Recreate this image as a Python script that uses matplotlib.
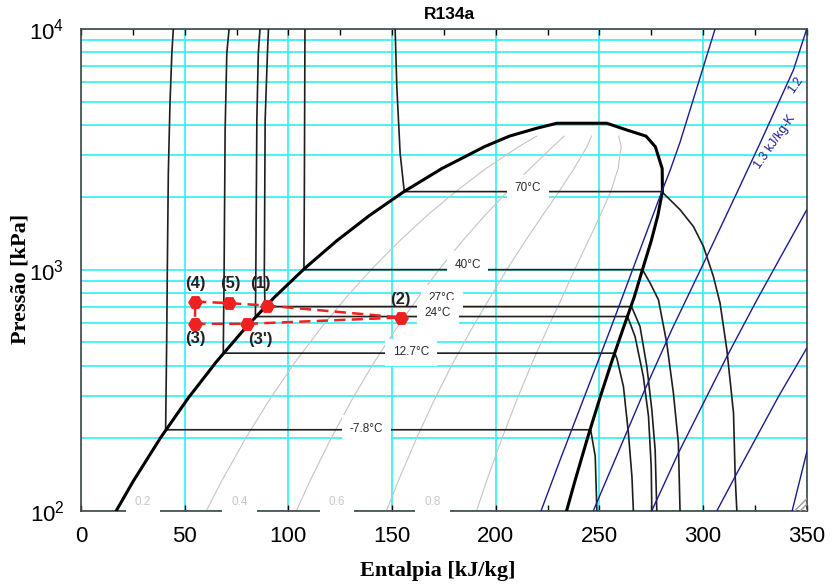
import matplotlib
matplotlib.use("Agg")
import matplotlib.pyplot as plt
from matplotlib.patches import Polygon
from matplotlib.ticker import MultipleLocator, NullFormatter, LogLocator

plt.rcParams["font.family"] = ["Liberation Sans", "DejaVu Sans"]
plt.rcParams["hatch.linewidth"] = 1.0

# saturation table, R134a (p in kPa, h in kJ/kg)
p_sat = [100, 132.7, 200.6, 292.8, 414.6, 571.7, 770.2, 1016.6, 1317.9, 1681.8, 2116.8, 2633.2, 3244.2, 3591]
h_liq = [17.0, 25.2, 38.3, 51.6, 65.2, 79.1, 93.3, 108.0, 123.2, 139.1, 155.9, 174.0, 194.5, 206.6]
h_vap = [234.2, 238.2, 244.3, 250.2, 255.9, 261.5, 266.8, 271.0, 275.0, 278.2, 280.4, 280.3, 277.0, 272.5]
# dome cap near the critical point
p_cap = [3873, 4062, 4062, 3809]
h_cap = [219.8, 229.5, 253.6, 263.2]

qualities = [0.2, 0.4, 0.6, 0.8]
quality_labels = ["0.2", "0.4", "0.6", "0.8"]
quality_label_h = [29.9, 76.4, 123.3, 169.5]
quality_label_p = 109

# isotherms: compressed liquid branch, horizontal in dome, superheated branch
iso_names = ["70°C", "40°C", "27°C", "24°C", "12.7°C", "-7.8°C"]
iso_h = [
    [151.5, 152.3, 153.9, 155.9, 280.1, 289.0, 295.4, 300.2, 305.0, 308.2, 311.5, 314.7, 315.5, 316.3],
    [108.0, 107.7, 107.5, 270.8, 274.5, 278.5, 282.5, 285.7, 288.1, 288.9],
    [90.4, 89.9, 88.8, 88.4, 88.7, 265.5, 269.6, 272.9, 275.3, 276.9, 277.7],
    [86.3, 85.5, 84.8, 84.3, 84.1, 263.6, 267.2, 271.2, 273.7, 275.0, 275.3],
    [71.4, 70.3, 69.5, 69.0, 68.6, 257.4, 258.4, 261.6, 264.0, 265.7, 266.4],
    [44.5, 43.8, 42.9, 42.1, 41.6, 41.3, 40.8, 245.8, 248.0, 248.8],
]
iso_p = [
    [10000, 5762, 3050, 2113, 2113, 1774, 1512, 1250, 938, 727.5, 465.6, 254.3, 138.8, 100],
    [10000, 2000, 1002, 1002, 880.9, 750.8, 496.6, 307.9, 190.9, 100],
    [10000, 7930, 4192, 969, 704, 704, 581.7, 396.9, 262.5, 179.1, 100],
    [10000, 7930, 4192, 969, 640, 640, 528.8, 360.8, 246.2, 152.7, 100],
    [10000, 7930, 3809, 969, 451, 451, 430.1, 328.0, 210.1, 138.8, 100],
    [10000, 7930, 4917, 2519, 969, 498, 216.8, 216.8, 168.0, 100],
]
iso_label_p = [2113, 1002, 704, 640, 451, 216.8]
iso_label_h = [215.6, 186.4, 174.0, 172.0, 159.1, 137.8]
iso_label_dy = [2.4, 3.6, 6.0, 2.4, 0.7, 0.7]

# isentropes
s_h = [
    [305.8, 289.0, 284.2, 280.1, 255.2, 231.1, 221.9],
    [350.0, 343.6, 327.5, 314.7, 301.8, 284.9, 271.2, 247.1],
    [350.0, 326.0, 311.5, 300.2, 288.1, 275.3],
    [350.0, 336.4, 315.5, 306.7],
    [343.0, 350.0],
]
s_p = [
    [10000, 3408, 2600, 2113, 564, 162.8, 100],
    [10000, 6760, 3356, 1952, 1135, 564, 307.8, 100],
    [1775, 751, 436.6, 279.9, 173.5, 100],
    [473, 298, 138.8, 100],
    [100, 174.6],
]

# refrigeration cycle: (4) (5) (1) (2) (3') (3) (4)
cyc_h = [55.0, 71.5, 89.6, 154.4, 80.2, 55.0, 55.0]
cyc_p = [738.6, 727.4, 711, 634, 597, 597, 738.6]
cyc_labels = ["(4)", "(5)", "(1)", "(2)", "(3')", "(3)"]
cyc_offsets = [(0, 13.2), (0.5, 14.4), (-4.3, 15.8), (-0.7, 12.7), (9.1, -11.5), (0, -10.3)]

cyan = "#2ef0f2"
navy = "#1c1c8c"

fig = plt.figure(figsize=(8.32, 5.85), dpi=100)
ax = fig.add_axes([0.0974, 0.127, 0.8722, 0.8234])
ax.set_yscale("log")
ax.set_xlim(0, 350)
ax.set_ylim(100, 10000)

ax.set_axisbelow(True)
ax.xaxis.grid(True, which="major", color=cyan, lw=1.2)
ax.yaxis.grid(True, which="both", color=cyan, lw=1.2)

# quality lines
for q in qualities:
    hq = [hf + q * (hg - hf) for hf, hg in zip(h_liq, h_vap)]
    ax.plot(hq, p_sat, color="#c4c4c4", lw=0.8, zorder=2)
for lab, hx in zip(quality_labels, quality_label_h):
    ax.text(hx, quality_label_p, lab, color="#c8c8c8", fontsize=8.5, ha="center", va="center",
            bbox=dict(boxstyle="square,pad=0.75", fc="white", ec="none"), zorder=3)

# isotherms
for hh, pp in zip(iso_h, iso_p):
    ax.plot(hh, pp, color="#1e1e1e", lw=1.2, zorder=3)
for k, (name, lp, lh, dy) in enumerate(zip(iso_names, iso_label_p, iso_label_h, iso_label_dy)):
    ax.annotate(name, (lh, lp), xytext=(0, dy), textcoords="offset points", ha="center", va="center",
                fontsize=8.5, color="#2a2a2a", zorder=6 + k,
                bbox=dict(boxstyle="square,pad=0.65", fc="white", ec="none"))

# saturation dome
dome_h = h_liq + h_cap + h_vap[::-1]
dome_p = p_sat + p_cap + p_sat[::-1]
ax.plot(dome_h, dome_p, color="black", lw=2.2, zorder=4)

# isentropes
for hh, pp in zip(s_h, s_p):
    ax.plot(hh, pp, color=navy, lw=1.0, zorder=4)
ax.text(344.5, 5855, "1.2", color=navy, fontsize=9, rotation=55, ha="center", va="center", zorder=5)
ax.text(334.5, 3408, "1.3 kJ/kg-K", color=navy, fontsize=9, rotation=55, ha="center", va="center", zorder=5)

# cycle
ax.plot(cyc_h, cyc_p, color="#ee2020", lw=1.8, ls=(0, (4.5, 2.5)), marker="H", ms=9.5,
        markevery=list(range(6)), zorder=12)
for lab, hx, px, off in zip(cyc_labels, cyc_h, cyc_p, cyc_offsets):
    ax.annotate(lab, (hx, px), xytext=off, textcoords="offset points", ha="center", va="center",
                fontsize=12, fontweight="bold", color="#222222", zorder=13)

# resize grip in the corner
ax.add_patch(Polygon([(0.978, 0.0), (1.0, 0.0), (1.0, 0.034)], closed=True, transform=ax.transAxes,
                     fc="none", ec="#999999", lw=0, hatch="//////", zorder=5))

ax.set_xticks(range(0, 351, 50))
ax.xaxis.set_minor_locator(MultipleLocator(25))
ax.set_yticks([100, 1000, 10000], labels=[r"$\mathregular{10^2}$", r"$\mathregular{10^3}$", r"$\mathregular{10^4}$"])
ax.yaxis.set_minor_locator(LogLocator(subs=range(2, 10)))
ax.yaxis.set_minor_formatter(NullFormatter())
ax.tick_params(axis="x", which="both", direction="in", top=True, length=4, width=1, labelsize=16, pad=11)
ax.tick_params(axis="y", which="major", direction="in", length=0, labelsize=16, pad=12)
ax.tick_params(axis="y", which="minor", length=0)
for sp in ax.spines.values():
    sp.set_color("#444444")
    sp.set_linewidth(1.2)

ax.set_title("R134a", fontsize=12.5, fontweight="bold", pad=7, x=0.507)
ax.set_xlabel("Entalpia [kJ/kg]", family="Liberation Serif", fontsize=16, fontweight="bold")
ax.set_ylabel("Pressão [kPa]", family="Liberation Serif", fontsize=16, fontweight="bold")
ax.xaxis.set_label_coords(0.492, -0.104)
ax.yaxis.set_label_coords(-0.07, 0.482)

fig.savefig("out.png", dpi=100)
